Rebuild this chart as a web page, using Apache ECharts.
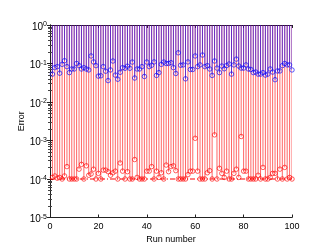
<!DOCTYPE html>
<html><head><meta charset="utf-8">
<script src="https://cdn.jsdelivr.net/npm/echarts@6/dist/echarts.min.js"></script>
<style>html,body{margin:0;padding:0;background:#fff}#c{width:332px;height:252px}</style>
</head><body><div id="c"></div>
<script>
// Run numbers are the positions 1..100 of the arrays below
const blueErr = [
0.053,0.078,0.083,0.056,0.095,0.118,0.083,0.058,0.072,0.072,
0.10,0.088,0.072,0.078,0.072,0.068,0.157,0.11,0.088,0.047,
0.048,0.083,0.063,0.036,0.068,0.116,0.050,0.039,0.059,0.078,
0.075,0.085,0.075,0.109,0.042,0.072,0.072,0.083,0.046,0.109,
0.083,0.09,0.11,0.049,0.058,0.095,0.109,0.10,0.10,0.105,
0.078,0.055,0.19,0.09,0.092,0.04,0.11,0.07,0.07,0.157,
0.083,0.092,0.166,0.083,0.088,0.072,0.049,0.116,0.076,0.058,
0.086,0.073,0.088,0.097,0.053,0.092,0.13,0.086,0.076,0.076,
0.092,0.072,0.07,0.058,0.06,0.053,0.053,0.058,0.05,0.053,
0.072,0.06,0.038,0.064,0.064,0.088,0.1,0.092,0.092,0.068];
const redErr = [
1.1e-4,1.2e-4,1.05e-4,1.1e-4,1e-4,1.2e-4,2.1e-4,1e-4,1e-4,1e-4,
1e-4,1.8e-4,2.4e-4,1e-4,2.2e-4,1.25e-4,1.35e-4,1.8e-4,1e-4,1.4e-4,
1e-4,1.7e-4,1.7e-4,1.55e-4,1.25e-4,1.45e-4,1.6e-4,1e-4,2.6e-4,1.6e-4,
1e-4,1.55e-4,1e-4,1e-4,3.2e-4,1.1e-4,1e-4,1e-4,1e-4,1.6e-4,
1.6e-4,2.1e-4,1e-4,1.6e-4,1.1e-4,1.45e-4,1e-4,2.3e-4,1.55e-4,2.1e-4,
2.2e-4,1.65e-4,1e-4,1e-4,1e-4,1e-4,1.3e-4,1.6e-4,1.6e-4,1.14e-3,
1.6e-4,1e-4,1e-4,1e-4,1.45e-4,1.65e-4,1e-4,1.4e-3,1e-4,1.9e-4,
1.4e-4,1.1e-4,1.6e-4,1e-4,1e-4,1.4e-4,1.8e-4,1.1e-4,1.27e-3,1.6e-4,
1.6e-4,1e-4,1e-4,1e-4,1e-4,1.25e-4,1e-4,2e-4,1e-4,1e-4,
1.1e-4,1.4e-4,1.4e-4,1e-4,1.8e-4,1e-4,2e-4,1e-4,1.1e-4,1e-4];
const baseLevel = 1e-4;
const xTicks = [0, 20, 40, 60, 80, 100];
const yMin = 1e-5, yMax = 1;
const xLabel = 'Run number', yLabel = 'Error';

const FONT = 'Liberation Sans';
const chart = echarts.init(document.getElementById('c'), null, {renderer: 'canvas'});

function stems(values, color, z) {
  return {
    type: 'custom', z: z, silent: true, clip: true,
    data: values.map((v, i) => [i + 1, v]),
    renderItem: (params, api) => {
      const x = api.value(0), v = api.value(1);
      const p0 = api.coord([x, v]);
      const p1 = api.coord([x, yMax]);
      return {type: 'line', shape: {x1: p0[0], y1: p0[1], x2: p1[0], y2: p1[1]},
              style: {stroke: color, lineWidth: 0.6}};
    }
  };
}
function markers(values, color, z) {
  return {
    type: 'scatter', z: z, silent: true, symbol: 'circle', symbolSize: 4.5,
    data: values.map((v, i) => [i + 1, v]),
    itemStyle: {color: 'rgba(0,0,0,0)', borderColor: color, borderWidth: 0.8}
  };
}
const yFmt = v => '{b|10}{s|' + Math.round(Math.log10(v)) + '}';
const common = {
  axisLine: {show: true, lineStyle: {color: '#222', width: 1}},
  axisTick: {show: true, inside: true, length: 3, lineStyle: {color: '#222'}},
  splitLine: {show: false}
};
chart.setOption({
  animation: false,
  backgroundColor: '#fff',
  grid: {left: 50, right: 40, top: 25, bottom: 34.5, containLabel: false},
  xAxis: [
    Object.assign({type: 'value', min: xTicks[0], max: xTicks[xTicks.length - 1], interval: 20,
      name: xLabel, nameLocation: 'middle', nameGap: 18, nameMoveOverlap: false,
      nameTextStyle: {fontFamily: FONT, fontSize: 9, color: '#000'},
      axisLabel: {fontFamily: FONT, fontSize: 9, color: '#000', margin: 5}}, common),
    Object.assign({type: 'value', position: 'top', min: 0, max: 100, interval: 20,
      axisLabel: {show: false}}, common)
  ],
  yAxis: [
    Object.assign({type: 'log', logBase: 10, min: yMin, max: yMax,
      name: yLabel, nameLocation: 'middle', nameGap: 24, nameMoveOverlap: false,
      nameTextStyle: {fontFamily: FONT, fontSize: 9, color: '#000'},
      minorTick: {show: true, splitNumber: 9, length: 2, lineStyle: {color: '#444'}},
      axisLabel: {formatter: yFmt, margin: 3, padding: [4, 0, 0, 0],
        rich: {b: {fontFamily: FONT, fontSize: 10, color: '#000', lineHeight: 12},
               s: {fontFamily: FONT, fontSize: 7, color: '#000', verticalAlign: 'top', lineHeight: 12}}}}, common),
    Object.assign({type: 'log', logBase: 10, min: yMin, max: yMax, position: 'right',
      minorTick: {show: true, splitNumber: 9, length: 2, lineStyle: {color: '#444'}},
      axisLabel: {show: false}}, common)
  ],
  series: [
    stems(redErr, '#ff0000', 1),
    stems(blueErr, '#0000ff', 2),
    {type: 'line', z: 3, silent: true, symbol: 'none',
     data: [[xTicks[0], baseLevel], [xTicks[xTicks.length - 1], baseLevel]],
     lineStyle: {color: '#ff0000', width: 1.2, type: [5, 2, 1, 2]}},
    markers(redErr, '#ff0000', 4),
    markers(blueErr, '#0000ff', 4)
  ]
});
</script></body></html>
